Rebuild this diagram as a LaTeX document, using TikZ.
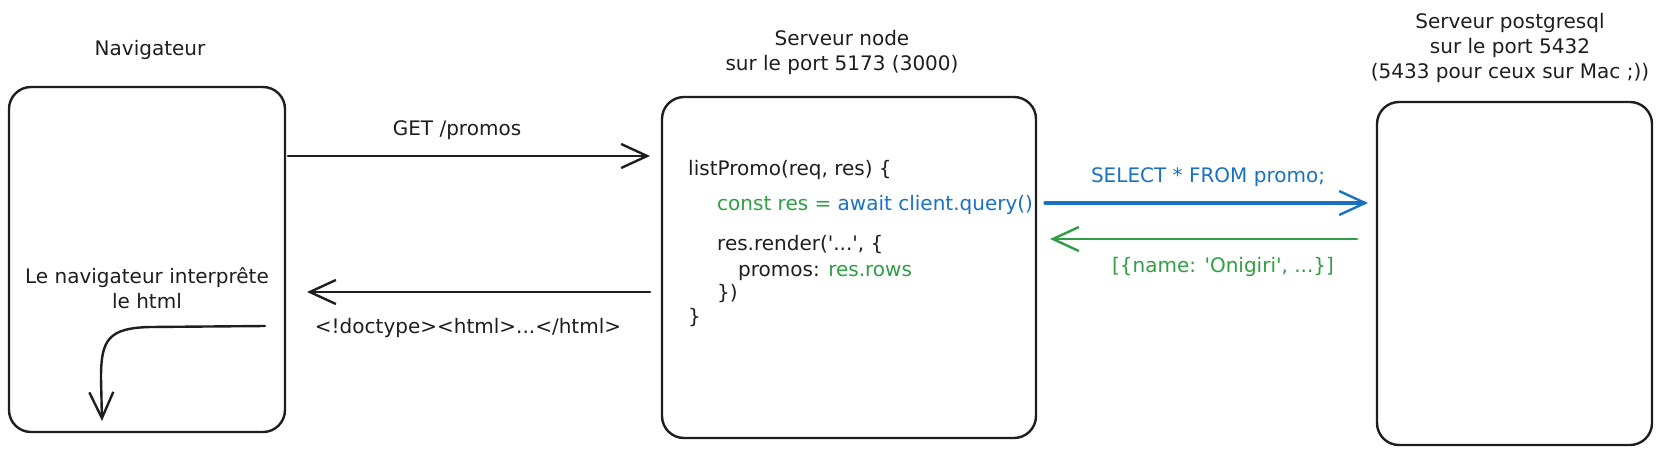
\documentclass[tikz,border=0pt]{standalone}
\usepackage{fontspec}
\setmainfont{DejaVu Sans}
\usetikzlibrary{arrows.meta}
\definecolor{ink}{HTML}{1E1E1E}
\definecolor{cblue}{HTML}{1971C2}
\definecolor{cgreen}{HTML}{2F9E44}
\newcommand{\q}{\textquotesingle}
\tikzset{
  box/.style={draw=ink, line width=2.4pt, rounded corners=22pt, rectangle, inner sep=0pt},
  lbl/.style={text=ink, font=\fontsize{20}{25}\selectfont, inner sep=0pt, align=center},
  code/.style={text=ink, font=\fontsize{20}{25}\selectfont, inner sep=0pt, anchor=west},
  arr/.style={draw=ink, line width=2.8pt, line cap=round, -{Straight Barb[length=26pt,width=24pt,line width=2.4pt]}},
}
\begin{document}
\begin{tikzpicture}[x=1pt,y=-1pt]
\useasboundingbox (0,0) rectangle (1661,455);

% boxes
\node[box, minimum width=276pt, minimum height=345pt] (nav) at (147,259.5) {};
\node[box, minimum width=374pt, minimum height=341pt] (srv) at (849,267.5) {};
\node[box, minimum width=275pt, minimum height=343pt] (pg) at (1514.5,273.5) {};

% titles
\node[lbl] (tnav) at (150,50) {Navigateur};
\node[lbl] (tsrv) at (842,52) {Serveur node\\sur le port 5173 (3000)};
\node[lbl] (tpg) at (1510,48) {Serveur postgresql\\sur le port 5432\\(5433 pour ceux sur Mac ;))};

% browser inner text
\node[lbl] (interp) at (147,288) {Le navigateur interprête\\le html};

% code
\node[code] (c1) at (688,170) {listPromo(req, res) \{};
\node[code] (c2) at (717,205) {\textcolor{cgreen}{const res =} \textcolor{cblue}{await client.query()}};
\node[code] (c3) at (717,245) {res.render(\q...\q, \{};
\node[code] (c4) at (738,273) {promos: \textcolor{cgreen}{res.rows}};
\node[code] (c5) at (717,294) {\})};
\node[code] (c6) at (688,318) {\}};

% connector ends
\coordinate (g1) at (288,156);
\coordinate (g2) at (650,156);
\coordinate (h1) at (650,292);
\coordinate (h2) at (307,292);
\coordinate (s1) at (1045,203);
\coordinate (s2) at (1368,203);
\coordinate (r1) at (1357,239);
\coordinate (r2) at (1050,239);
\coordinate (k1) at (265,326);
\coordinate (k2) at (102,421);

% arrows
\draw[arr] (g1) -- (g2);
\draw[arr] (h1) -- (h2);
\draw[arr, draw=cblue, line width=3.2pt] (s1) -- (s2);
\draw[arr, draw=cgreen] (r1) -- (r2);
\draw[arr, line width=2.4pt] (k1) -- (150,327) .. controls (108,328) and (101,340) .. (101,378) -- (k2);

% labels
\node[lbl] (lget) at (457,130) {GET /promos};
\node[lbl] (lhtml) at (468,328) {<!doctype><html>...</html>};
\node[lbl, text=cblue] (lsel) at (1208,177) {SELECT * FROM promo;};
\node[lbl, text=cgreen] (lrows) at (1223,267) {[\{name: \q Onigiri\q, ...\}]};
\end{tikzpicture}
\end{document}
